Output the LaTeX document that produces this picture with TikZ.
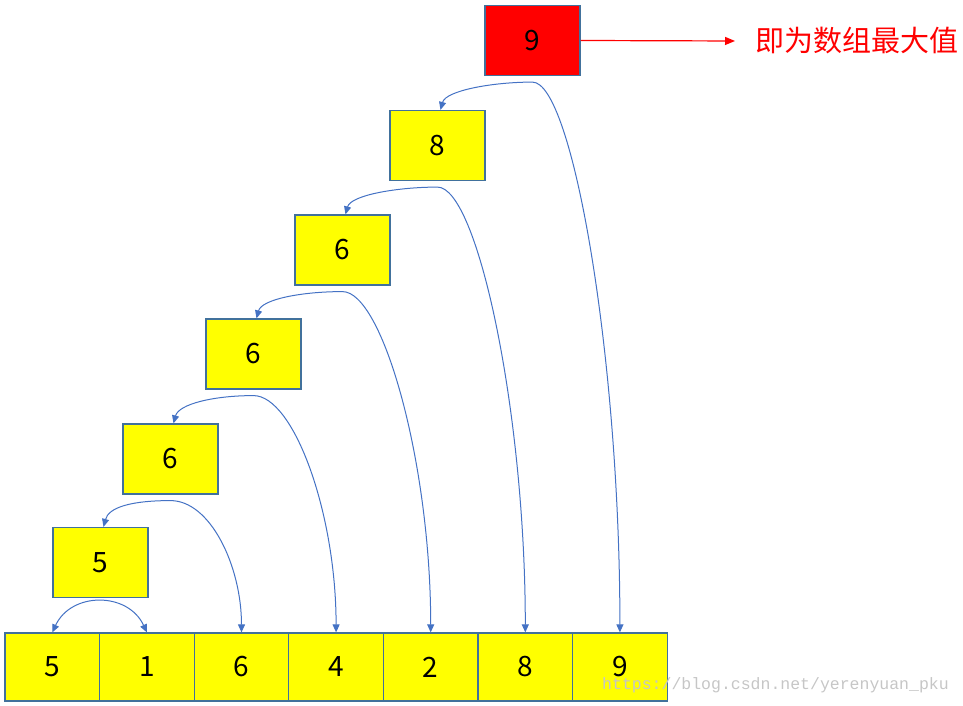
\documentclass[tikz,border=0pt]{standalone}
\usepackage{fontspec}
\setmainfont{Noto Sans CJK SC}
\newfontfamily\wmfont{Liberation Mono}
\usepackage{xcolor}
\usetikzlibrary{positioning, arrows.meta, calc}
\definecolor{boxyellow}{HTML}{FFFF00}
\definecolor{boxedge}{HTML}{41719C}
\definecolor{linkblue}{HTML}{4472C4}

\tikzset{
    cell/.style={draw=boxedge, fill=boxyellow, line width=1.2pt, inner sep=0pt,
        minimum width=94.6pt, minimum height=68pt, font=\fontsize{28}{30}\selectfont},
    stackcell/.style={cell, minimum width=95pt, minimum height=70pt},
    link/.style={linkblue, line width=1pt, {Triangle[width=7pt,length=8pt]}-{Triangle[width=7pt,length=8pt]}},
    maxlink/.style={red, line width=1.2pt, -{Triangle[width=8pt,length=10pt]}},
}

\begin{document}
\begin{tikzpicture}[x=1pt, y=1pt]
        \useasboundingbox (0,0) rectangle (963,706);
        % the array
        \foreach \v [count=\i] in {5,1,6,4,2,8,9} {
            \node[cell] (a\i) at ({5+94.6*(\i-0.5)}, 39) {\v};
        }
        % running maximum
        \foreach \v/\x/\y [count=\i] in {5/100.5/143.5, 6/170.5/247, 6/253.5/352, 6/342.5/456, 8/437.5/560.5} {
            \node[stackcell] (m\i) at (\x, \y) {\v};
        }
        \node[stackcell, fill=red] (m6) at (532.5, 665.5) {9};
        \node[red, anchor=west, inner sep=0pt, font=\fontsize{29}{31}\selectfont] (note) at (755, 665) {即为数组最大值};
        \draw[maxlink] (m6.east) -- ([xshift=-20pt]note.west);
        % compare arcs
        \draw[link] (a1.north) to[out=65, in=115, distance=45pt] (a2.north);
        \foreach \up/\low/\bot/\ind in {m6/m5/a7/275pt, m5/m4/a6/220pt, m4/m3/a5/170pt, m3/m2/a4/120pt, m2/m1/a3/66pt} {
            \coordinate (pk) at ($(\up.south)+(0,-6)$);
            \draw[link] ($(\low.north)+(3,0)$) to[out=75, in=180, out distance=20pt, in distance=40pt] (pk)
                to[out=0, in=90, out distance=40pt, in distance=\ind] (\bot.north);
        }
        \node[gray!45, anchor=west, inner sep=0pt, font=\wmfont\fontsize{16.5}{18}\selectfont] (wm) at (602, 21) {https://blog.csdn.net/yerenyuan\_pku};
    \end{tikzpicture}
\end{document}
